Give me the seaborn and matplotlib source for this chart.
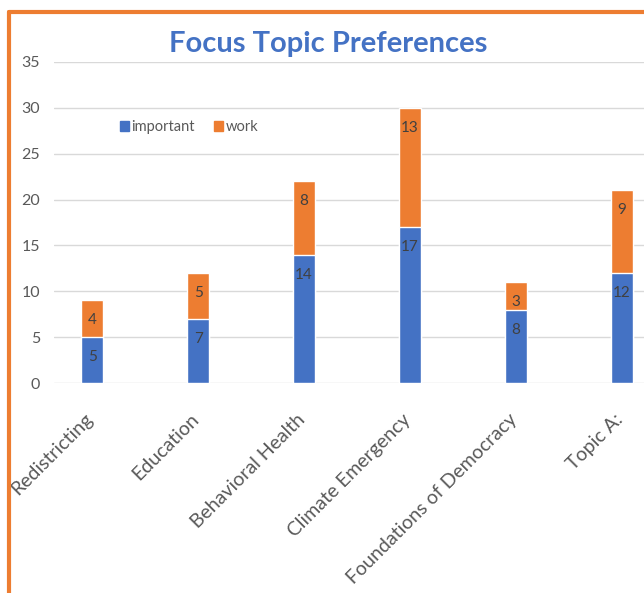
import matplotlib.pyplot as plt
import matplotlib.patches as mpatches
import matplotlib.transforms as mtransforms
from matplotlib.lines import Line2D
import seaborn as sns
import pandas as pd

# Chart data
topics = ["Redistricting", "Education", "Behavioral Health", "Climate Emergency",
          "Foundations of Democracy", "Topic A:"]
important = [5, 7, 14, 17, 8, 12]
work = [4, 5, 8, 13, 3, 9]
yticks = [0, 5, 10, 15, 20, 25, 30, 35]

BLUE = "#4472C4"
ORANGE = "#ED7D31"
GRAY = "#595959"

sns.set_theme(style="white")
plt.rcParams['font.family'] = ['Lato', 'DejaVu Sans']

df = pd.DataFrame({"topic": topics, "important": important, "work": work})
df["total"] = df["important"] + df["work"]

fig = plt.figure(figsize=(6.44, 5.93), dpi=100)
ax = fig.add_axes([0.0839, 0.354, 1.0 - 0.0839, 0.5416])

# stacked bars: total in orange, important in blue over it
sns.barplot(data=df, x="topic", y="total", color=ORANGE, width=0.21,
            saturation=1, ax=ax, zorder=3)
sns.barplot(data=df, x="topic", y="important", color=BLUE, width=0.21,
            saturation=1, ax=ax, zorder=4)

# data labels sit just inside the top of each segment
for i, row in df.iterrows():
    ax.annotate(str(row["important"]), (i, row["important"]), xytext=(0, -20),
                textcoords="offset pixels", ha="center", va="center",
                fontsize=11, color="#404040", zorder=5)
    ax.annotate(str(row["work"]), (i, row["total"]), xytext=(0, -20),
                textcoords="offset pixels", ha="center", va="center",
                fontsize=11, color="#404040", zorder=5)

ax.set_ylim(0, 35)
ax.set_xlim(-0.36, 5.21)
ax.set_yticks(yticks)
ax.yaxis.grid(True, color="#D9D9D9", linewidth=1, zorder=0)
ax.set_axisbelow(True)
for s in ax.spines.values():
    s.set_visible(False)
ax.tick_params(axis="both", length=0, colors=GRAY, labelsize=11.5, pad=10)
ax.set_xlabel("")
ax.set_ylabel("")
ax.set_xticks(range(len(topics)))
ax.set_xticklabels(topics, rotation=45, ha="right", rotation_mode="anchor",
                   fontsize=14, color=GRAY)
ax.tick_params(axis="x", pad=4)
shift = mtransforms.ScaledTranslation(-8 / 100, -22 / 100, fig.dpi_scale_trans)
for lbl in ax.get_xticklabels():
    lbl.set_transform(lbl.get_transform() + shift)

handles = [mpatches.Patch(color=BLUE, label="important"),
           mpatches.Patch(color=ORANGE, label="work")]
ax.legend(handles=handles, loc="center", bbox_to_anchor=(0.229, 0.797), ncol=2,
          frameon=False, fontsize=10.5, handlelength=0.6, handleheight=0.6,
          handletextpad=0.2, columnspacing=1.3, labelcolor=GRAY)

fig.text(0.509, 0.925, "Focus Topic Preferences", ha="center", va="center",
         fontsize=21, fontweight="bold", color=BLUE)

# orange chart frame (left and top edges visible)
fig.add_artist(Line2D([0.0140, 0.0140], [0.0, 0.9790], transform=fig.transFigure,
                      color=ORANGE, linewidth=3, solid_capstyle="round"))
fig.add_artist(Line2D([0.0140, 1.0], [0.9790, 0.9790], transform=fig.transFigure,
                      color=ORANGE, linewidth=3, solid_capstyle="round"))

fig.savefig("out.png", dpi=100)
